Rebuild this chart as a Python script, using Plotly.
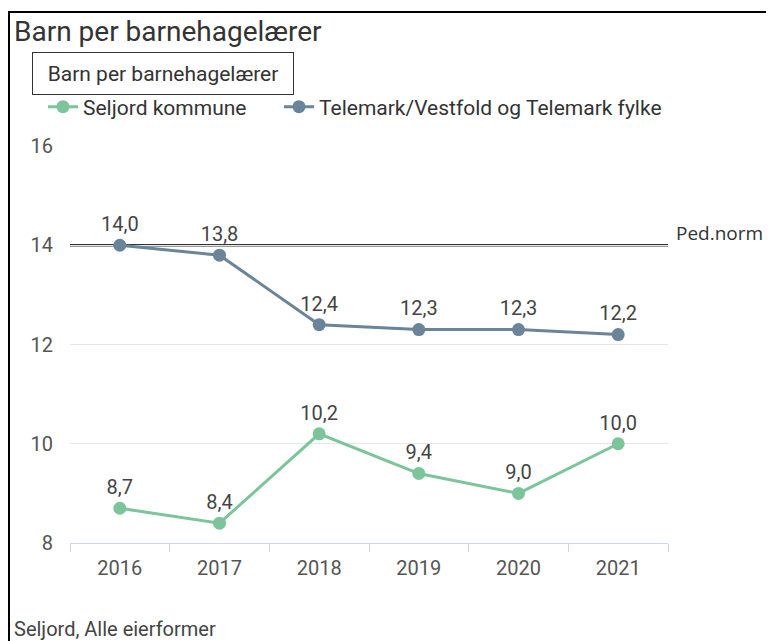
import plotly.graph_objects as go

years = ["2016", "2017", "2018", "2019", "2020", "2021"]
seljord = [8.7, 8.4, 10.2, 9.4, 9.0, 10.0]
telemark = [14.0, 13.8, 12.4, 12.3, 12.3, 12.2]
ped_norm = 14
y_ticks = [8, 10, 12, 14, 16]

# page body has an 8px margin; figure coords = page coords - 8
W, H = 766, 633
X0, X1, Y0, Y1 = 62, 660, 138, 535


def px(x):
    return (x - X0) / (X1 - X0)


def py(y):
    return (Y1 - y) / (Y1 - Y0)


def fmt(v):
    return f"{v:.1f}".replace(".", ",")


green = "#7cc49a"
blue = "#6a8499"
lab_font = dict(size=20, color="#444444", family="Roboto")

fig = go.Figure()
fig.add_trace(go.Scatter(
    x=years, y=seljord, name="Seljord kommune", mode="lines+markers+text",
    line=dict(color=green, width=3), marker=dict(color=green, size=13),
    text=[fmt(v) for v in seljord], textposition="top center",
    textfont=lab_font, cliponaxis=False, legend="legend",
))
fig.add_trace(go.Scatter(
    x=years, y=telemark, name="Telemark/Vestfold og Telemark fylke", mode="lines+markers+text",
    line=dict(color=blue, width=3), marker=dict(color=blue, size=13),
    text=[fmt(v) for v in telemark], textposition="top center",
    textfont=lab_font, cliponaxis=False, legend="legend2",
))

shapes = [
    dict(type="line", xref="paper", yref="y", x0=0, x1=1, y0=ped_norm, y1=ped_norm,
         line=dict(color="#333333", width=2.5), layer="below"),
    dict(type="line", xref="paper", yref="paper", x0=px(1), x1=px(1), y0=py(3), y1=py(640),
         line=dict(color="#000000", width=2)),
    dict(type="line", xref="paper", yref="paper", x0=px(0), x1=px(770), y0=py(4), y1=py(4),
         line=dict(color="#000000", width=2)),
]

annotations = [
    dict(text="Barn per barnehagelærer", xref="paper", yref="paper", x=px(4), y=py(24),
         xanchor="left", yanchor="middle", showarrow=False,
         font=dict(size=28, color="#333333", family="Roboto")),
    dict(text="Barn per barnehagelærer", xref="paper", yref="paper", x=px(24), y=py(44),
         xanchor="left", yanchor="top", showarrow=False, width=244, height=25, align="center",
         font=dict(size=21, color="#333333", family="Roboto"),
         bordercolor="#333333", borderwidth=1, borderpad=8, bgcolor="white"),
    dict(text="Ped.norm", xref="paper", yref="y", x=px(666), y=ped_norm, yshift=12,
         xanchor="left", yanchor="middle", showarrow=False,
         font=dict(size=19, color="#333333", family="Open Sans")),
    dict(text="Seljord, Alle eierformer", xref="paper", yref="paper", x=px(4), y=py(621),
         xanchor="left", yanchor="middle", showarrow=False,
         font=dict(size=20, color="#444444", family="Roboto")),
]

leg_common = dict(orientation="h", yanchor="middle", xanchor="left",
                  font=dict(size=21, color="#333333", family="Roboto"), itemwidth=30,
                  bgcolor="rgba(0,0,0,0)")

fig.update_layout(
    width=W, height=H,
    margin=dict(l=X0, r=W - X1, t=Y0, b=H - Y1, pad=0),
    paper_bgcolor="white", plot_bgcolor="white",
    font=dict(family="Roboto", color="#444444"),
    showlegend=True,
    legend=dict(x=px(35), y=py(99), **leg_common),
    legend2=dict(x=px(271), y=py(99), **leg_common),
    shapes=shapes, annotations=annotations,
)
fig.update_xaxes(type="category", range=[-0.5, 5.5], showgrid=False,
                 showline=True, linecolor="#ccd6eb", linewidth=1,
                 ticks="outside", tickson="boundaries", ticklen=8, tickcolor="#ccd6eb",
                 ticklabelstandoff=7,
                 tickfont=dict(size=20, color="#555555"), zeroline=False)
fig.update_yaxes(range=[8, 16], tickvals=y_ticks, showgrid=True, gridcolor="#e6e6e6",
                 zeroline=False, showline=False, ticks="", ticklabelstandoff=16,
                 tickfont=dict(size=20, color="#555555"))

fig.write_html("out.html")
